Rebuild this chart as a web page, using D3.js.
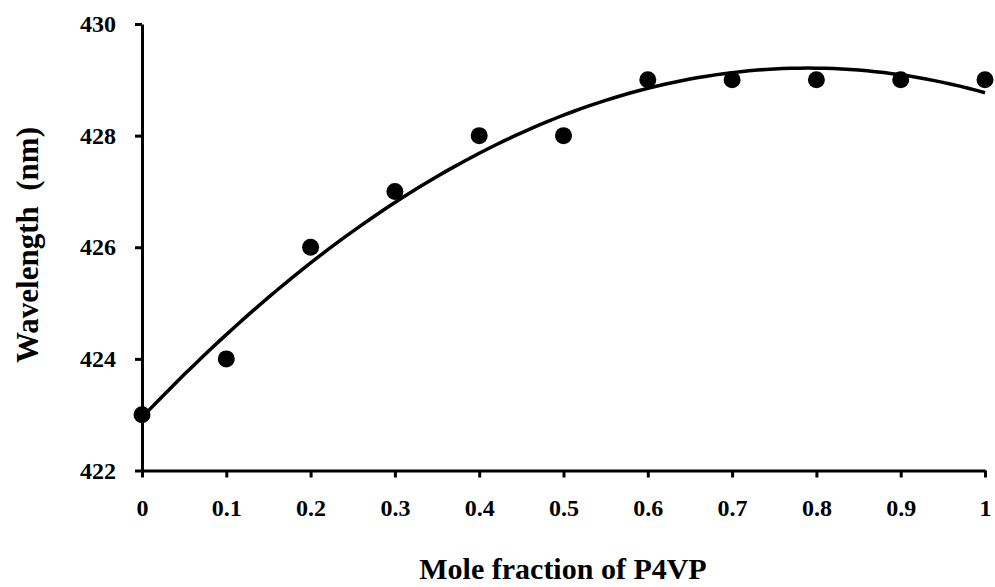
<!DOCTYPE html>
<html>
<head>
<meta charset="utf-8">
<script src="https://cdn.jsdelivr.net/npm/d3@7"></script>
<style>
  body { margin: 0; background: #fff; }
  text { font-family: "Liberation Serif", "Times New Roman", serif; font-weight: bold; fill: #000; }
</style>
</head>
<body>
<div id="chart-area"></div>
<script>
// Wavelength vs mole fraction of P4VP

var moleFraction = [0, 0.1, 0.2, 0.3, 0.4, 0.5, 0.6, 0.7, 0.8, 0.9, 1];
var wavelength = [423, 424, 426, 427, 428, 428, 429, 429, 429, 429, 429];
var xTicks = [0, 0.1, 0.2, 0.3, 0.4, 0.5, 0.6, 0.7, 0.8, 0.9, 1];
var yTicks = [422, 424, 426, 428, 430];

var data = moleFraction.map(function(x, i) { return { x: x, y: wavelength[i] }; });

var W = 995, H = 587;
var margin = { left: 142, right: 10, top: 24, bottom: 116 };

var svg = d3.select("#chart-area")
    .append("svg")
    .attr("width", W)
    .attr("height", H);

var x = d3.scaleLinear().domain([0, 1]).range([margin.left, 985]);
var y = d3.scaleLinear().domain([422, 430]).range([470.5, margin.top]);

// least squares 2nd order polynomial trendline
function polyFit(pts) {
  var s = [0, 0, 0, 0, 0], t = [0, 0, 0];
  pts.forEach(function(p) {
    for (var k = 0; k < 5; k++) s[k] += Math.pow(p.x, k);
    for (var k = 0; k < 3; k++) t[k] += Math.pow(p.x, k) * p.y;
  });
  var m = [[s[0], s[1], s[2], t[0]], [s[1], s[2], s[3], t[1]], [s[2], s[3], s[4], t[2]]];
  for (var i = 0; i < 3; i++) {
    for (var j = i + 1; j < 3; j++) {
      var f = m[j][i] / m[i][i];
      for (var k = i; k < 4; k++) m[j][k] -= f * m[i][k];
    }
  }
  var c = [0, 0, 0];
  for (var i = 2; i >= 0; i--) {
    var v = m[i][3];
    for (var k = i + 1; k < 3; k++) v -= m[i][k] * c[k];
    c[i] = v / m[i][i];
  }
  return c;
}
var coef = polyFit(data);
var fitLine = d3.range(0, 101).map(function(i) {
  var xv = i / 100;
  return { x: xv, y: coef[0] + coef[1] * xv + coef[2] * xv * xv };
});

var xAxis = svg.append("g")
    .attr("transform", "translate(0," + y(422) + ")")
    .call(d3.axisBottom(x).tickValues(xTicks).tickSize(7).tickSizeOuter(0)
      .tickFormat(function(d) { return d === 0 || d === 1 ? d : d3.format(".1f")(d); }));

var yAxis = svg.append("g")
    .attr("transform", "translate(" + x(0) + ",0)")
    .call(d3.axisLeft(y).tickValues(yTicks).tickSize(7).tickSizeOuter(0).tickPadding(19));

[xAxis, yAxis].forEach(function(a) {
  a.select(".domain").attr("stroke", "#000").attr("stroke-width", 3);
  a.selectAll(".tick line").attr("stroke", "#000").attr("stroke-width", 3);
  a.selectAll(".tick text")
    .style("font-family", "'Liberation Serif', serif")
    .style("font-weight", "bold")
    .style("font-size", "24px")
    .attr("fill", "#000");
});
xAxis.selectAll(".tick text").attr("y", 45).attr("dy", 0);

svg.append("path")
    .datum(fitLine)
    .attr("fill", "none")
    .attr("stroke", "#000")
    .attr("stroke-width", 3.5)
    .attr("d", d3.line().x(function(d) { return x(d.x); }).y(function(d) { return y(d.y); }));

svg.selectAll("circle.pt")
    .data(data)
    .enter().append("circle")
    .attr("class", "pt")
    .attr("cx", function(d) { return x(d.x); })
    .attr("cy", function(d) { return y(d.y); })
    .attr("r", 8.5)
    .attr("fill", "#000");

svg.append("text")
    .attr("x", 563)
    .attr("y", 579)
    .attr("text-anchor", "middle")
    .style("font-size", "30px")
    .text("Mole fraction of P4VP");

svg.append("text")
    .attr("transform", "translate(38,245) rotate(-90)")
    .attr("text-anchor", "middle")
    .style("font-size", "31px")
    .attr("xml:space", "preserve")
    .text("Wavelength  (nm)");
</script>
</body>
</html>
